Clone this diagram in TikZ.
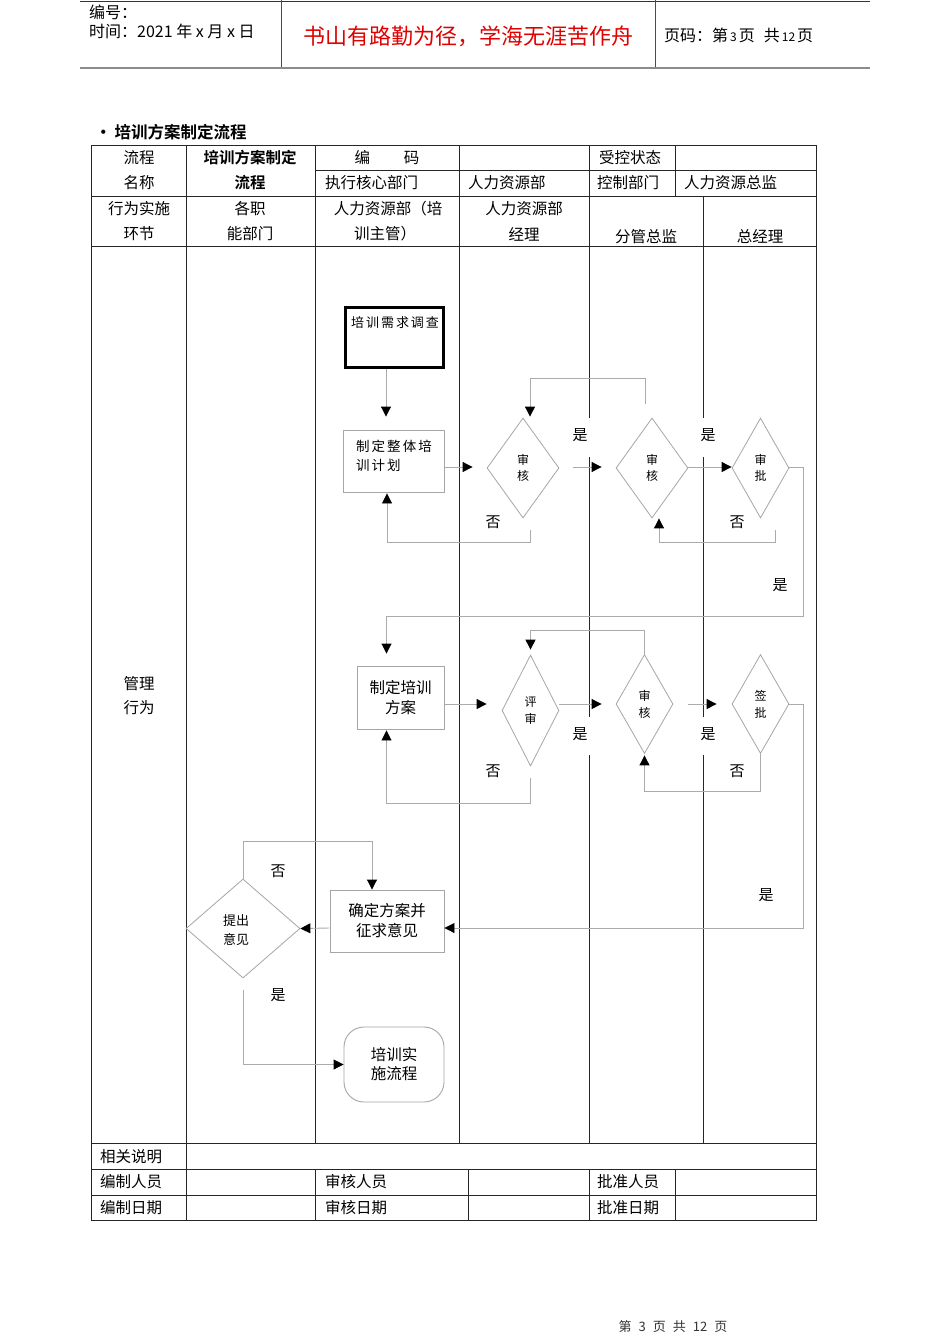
\documentclass[tikz,border=0pt]{standalone}
\usepackage{fontspec}
\setmainfont{Noto Sans CJK SC}[BoldFont={Noto Sans CJK SC Bold}]
\newfontfamily\spc{Noto Sans CJK SC}[LetterSpace=15]
\usetikzlibrary{shapes.geometric,arrows.meta}
\tikzset{
  tline/.style={draw=black!85, line width=0.9pt},
  flow/.style={draw=black!33, line width=0.9pt},
  arr/.style={flow, -{Triangle[length=10pt,width=10pt,color=black]}},
  box/.style={draw=black!35, line width=0.9pt, rectangle, inner sep=0pt, align=center, font=\fontsize{15.5}{20}\selectfont},
  thickbox/.style={draw=black, line width=3pt, rectangle, inner sep=0pt, minimum width=98, minimum height=60},
  dia/.style={draw=black!35, line width=0.8pt, diamond, inner sep=0pt, align=center, font=\fontsize{12}{16}\selectfont},
  lbl/.style={font=\fontsize{15}{18}\selectfont, inner sep=0pt},
  ttxt/.style={font=\fontsize{15.5}{18}\selectfont, inner sep=0pt},
  htxt/.style={font=\fontsize{16}{18}\selectfont, inner sep=0pt},
}
\begin{document}
\begin{tikzpicture}[x=1pt,y=-1pt]
\useasboundingbox[fill=white] (0,0) rectangle (950,1344);

% ---------- header ----------
\draw[black!80, line width=1pt] (80,1) -- (870,1);
\draw[black!45, line width=2pt] (80,67.5) -- (870,67.5);
\draw[black!70, line width=1pt] (281,0) -- (281,67) (655,0) -- (655,67);
\node[htxt, anchor=west] (h1) at (89,12) {编号：};
\node[htxt, anchor=west] (h2) at (89,31) {时间：2021 年 x 月 x 日};
\node[font=\fontsize{22}{24}\selectfont, text=red!88!black, inner sep=0pt] (h3) at (468,36) {书山有路勤为径，学海无涯苦作舟};
\node[htxt, anchor=west] (h4) at (664,35) {页码：第\hspace{2pt}{\fontsize{12}{14}\selectfont 3}\hspace{2pt}页\hspace{9pt}共\hspace{2pt}{\fontsize{12}{14}\selectfont 12}\hspace{2pt}页};

% ---------- title ----------
\node[anchor=west, font=\bfseries\fontsize{16.5}{18}\selectfont, inner sep=0pt] (title) at (95,132) {•\hspace{3pt}培训方案制定流程};

% ---------- table frame ----------
\draw[tline] (91,145) rectangle (816,1220);
\draw[tline] (315,170) -- (816,170);
\draw[tline] (91,196) -- (816,196);
\draw[tline] (91,246) -- (816,246);
\draw[tline] (91,1143) -- (816,1143);
\draw[tline] (91,1169) -- (816,1169);
\draw[tline] (91,1195) -- (816,1195);
\draw[tline] (186,145) -- (186,1220);
\draw[tline] (315,145) -- (315,1143) (315,1169) -- (315,1220);
\draw[tline] (459,145) -- (459,1143);
\draw[tline] (589,145) -- (589,418) (589,457) -- (589,717) (589,755) -- (589,1143) (589,1169) -- (589,1220);
\draw[tline] (675,145) -- (675,196) (675,1169) -- (675,1220);
\draw[tline] (703,196) -- (703,418) (703,457) -- (703,717) (703,755) -- (703,1143);
\draw[tline] (468,1169) -- (468,1220);

% ---------- table texts ----------
\node[ttxt] (t11) at (139,158) {流程};
\node[ttxt] (t21) at (139,183) {名称};
\node[ttxt, font=\bfseries\fontsize{15.5}{18}\selectfont] (t12) at (250,158) {培训方案制定};
\node[ttxt, font=\bfseries\fontsize{15.5}{18}\selectfont] (t22) at (250,183) {流程};
\node[ttxt] (t13) at (387,158) {编\hspace{34pt}码};
\node[ttxt] (t15) at (630,158) {受控状态};
\node[ttxt, anchor=west] (t23) at (325,183) {执行核心部门};
\node[ttxt, anchor=west] (t24) at (468,183) {人力资源部};
\node[ttxt, anchor=west] (t25) at (597,183) {控制部门};
\node[ttxt, anchor=west] (t26) at (684,183) {人力资源总监};
\node[ttxt] (t31a) at (139,209) {行为实施};
\node[ttxt] (t31b) at (139,234) {环节};
\node[ttxt] (t32a) at (250,209) {各职};
\node[ttxt] (t32b) at (250,234) {能部门};
\node[ttxt] (t33a) at (388,209) {人力资源部（培};
\node[ttxt] (t33b) at (385,234) {训主管）};
\node[ttxt] (t34a) at (524,209) {人力资源部};
\node[ttxt] (t34b) at (524,234) {经理};
\node[ttxt] (t35) at (646,237) {分管总监};
\node[ttxt] (t36) at (760,237) {总经理};
\node[ttxt] (g1) at (139,684) {管理};
\node[ttxt] (g2) at (139,708) {行为};
\node[ttxt, anchor=west] (b1) at (100,1157) {相关说明};
\node[ttxt, anchor=west] (b2) at (100,1182) {编制人员};
\node[ttxt, anchor=west] (b3) at (100,1208) {编制日期};
\node[ttxt, anchor=west] (b4) at (325,1182) {审核人员};
\node[ttxt, anchor=west] (b5) at (325,1208) {审核日期};
\node[ttxt, anchor=west] (b6) at (597,1182) {批准人员};
\node[ttxt, anchor=west] (b7) at (597,1208) {批准日期};

% ---------- flow shapes ----------
\node[thickbox] (n1) at (394,337) {};
\node[anchor=north west, font=\spc\fontsize{13}{15}\selectfont, inner sep=0pt] (n1t) at (351,316) {培训需求调查};
\node[box, minimum width=101, minimum height=62] (n2) at (393.5,461) {};
\node[align=left, font=\spc\fontsize{13.5}{19}\selectfont, inner sep=0pt] (n2t) at (394,455.5) {制定整体培\\训计划};
\node[dia, minimum width=72, minimum height=100] (d1) at (523,468) {审\\核};
\node[dia, minimum width=72, minimum height=100] (d2) at (652,468) {审\\核};
\node[dia, minimum width=57, minimum height=100] (d3) at (760.5,468) {审\\批};

\node[box, minimum width=87, minimum height=63] (n3) at (400.5,697.5) {制定培训\\方案};
\node[dia, minimum width=57, minimum height=111, font=\fontsize{12}{17}\selectfont] (d4) at (530.5,710.5) {评\\审};
\node[dia, minimum width=57, minimum height=99, font=\fontsize{12}{17}\selectfont] (d5) at (644.5,704) {审\\核};
\node[dia, minimum width=57, minimum height=99, font=\fontsize{12}{17}\selectfont] (d6) at (760.5,704) {签\\批};

\node[box, minimum width=114, minimum height=62] (n4) at (387,921) {确定方案并\\征求意见};
\node[dia, minimum width=114, minimum height=99] (d7) at (243,928.5) {};
\node[align=center, font=\fontsize{13}{19}\selectfont, inner sep=0pt] (d7t) at (236,930.5) {提出\\意见};
\node[box, rounded corners=20pt, minimum width=100, minimum height=75, font=\fontsize{15.5}{19}\selectfont] (n5) at (394,1064.5) {培训实\\施流程};

% ---------- connectors ----------
\draw[arr] ([xshift=-8pt]n1.south) -- ([xshift=-7.5pt,yshift=13pt]n2.north);
\draw[arr] ([yshift=-6pt]n2.east) -- ([xshift=-14pt,yshift=1pt]d1.west);
\draw[arr] ([xshift=14pt,yshift=1pt]d1.east) -- ([xshift=-14pt,yshift=1pt]d2.west);
\draw[arr] ([xshift=-7pt,yshift=14pt]d2.north) -- ++(0,-25) -| ([xshift=7pt,yshift=1pt]d1.north);
\draw[arr] ([xshift=7pt,yshift=-12pt]d1.south) -- ++(0,12) -| ([xshift=-6.5pt,yshift=-1pt]n2.south);
\draw[arr] ([yshift=1pt]d2.east) -- ([yshift=1pt]d3.west);
\draw[arr] ([xshift=14.5pt,yshift=-12pt]d3.south) -- ++(0,12) -| ([xshift=7pt]d2.south);
\coordinate (r1) at (803,467);
\coordinate (r2) at (803,616);
\draw[arr] ([yshift=1pt]d3.east) -- (r1) -- (r2) -| ([xshift=-14pt,yshift=12pt]n3.north);

\draw[arr] ([yshift=-6.5pt]n3.east) -- ([xshift=-15pt,yshift=6.5pt]d4.west);
\draw[arr] ([yshift=6.5pt]d4.east) -- ([xshift=-14pt]d5.west);
\draw[arr] (d5.north) -- ++(0,-24) -| ([yshift=5pt]d4.north);
\draw[arr] ([yshift=-12pt]d4.south) -- ++(0,25) -| ([xshift=-14pt,yshift=-1pt]n3.south);
\draw[arr] ([xshift=15pt]d5.east) -- ([xshift=-15pt]d6.west);
\draw[arr] (d6.south) -- ++(0,38) -| ([yshift=-1.5pt]d5.south);
\coordinate (r3) at (803,704);
\draw[arr] (d6.east) -- (r3) |- ([yshift=-7pt]n4.east);

\draw[arr] ([yshift=-7pt]n4.west) -- (d7.east);
\draw[arr] (d7.north) -- ++(0,-37) -| ([xshift=-15pt]n4.north);
\draw[arr] ([yshift=-12pt]d7.south) |- (n5.west);

% ---------- yes / no labels ----------
\node[lbl] (y1) at (580,435) {是};
\node[lbl] (y2) at (708,435) {是};
\node[lbl] (f1) at (493,522) {否};
\node[lbl] (f2) at (737,522) {否};
\node[lbl] (y3) at (780,585) {是};
\node[lbl] (y4) at (580,734) {是};
\node[lbl] (y5) at (708,734) {是};
\node[lbl] (f3) at (493,771) {否};
\node[lbl] (f4) at (737,771) {否};
\node[lbl] (y6) at (766,895) {是};
\node[lbl] (f5) at (278,871) {否};
\node[lbl] (y7) at (278,995) {是};

% ---------- footer ----------
\node[font=\fontsize{13}{15}\selectfont, text=black!80, inner sep=0pt] (foot) at (673,1327) {第\hspace{7pt}3\hspace{7pt}页\hspace{7pt}共\hspace{7pt}12\hspace{7pt}页};
\end{tikzpicture}
\end{document}
